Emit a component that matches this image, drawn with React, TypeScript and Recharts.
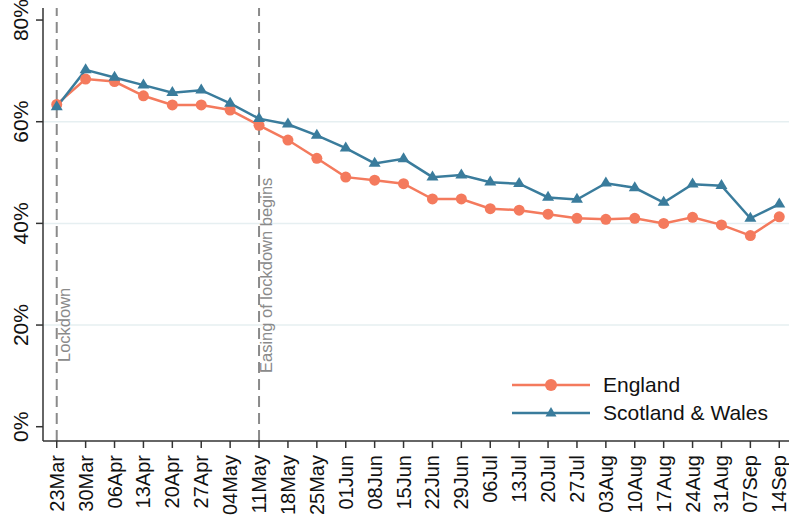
import React from 'react';
import { LineChart, Line, XAxis, YAxis, ReferenceLine, Legend } from 'recharts';

const categories = ['23Mar','30Mar','06Apr','13Apr','20Apr','27Apr','04May','11May','18May','25May','01Jun','08Jun','15Jun','22Jun','29Jun','06Jul','13Jul','20Jul','27Jul','03Aug','10Aug','17Aug','24Aug','31Aug','07Sep','14Sep'];
const england = [63.4, 68.4, 67.9, 65.1, 63.3, 63.3, 62.3, 59.3, 56.4, 52.8, 49.1, 48.5, 47.8, 44.8, 44.8, 42.9, 42.6, 41.8, 41.0, 40.8, 41.0, 40.0, 41.2, 39.7, 37.6, 41.3];
const scotlandWales = [62.9, 70.2, 68.7, 67.2, 65.7, 66.2, 63.6, 60.6, 59.5, 57.3, 54.8, 51.8, 52.7, 49.1, 49.5, 48.1, 47.8, 45.1, 44.7, 47.9, 47.0, 44.1, 47.7, 47.4, 41.0, 43.8];
const yTicks = [0, 20, 40, 60, 80];
const gridValues = [20, 40, 60];
const events = [
  { index: 0, label: 'Lockdown', bottom: 362 },
  { index: 7, label: 'Easing of lockdown begins', bottom: 373 },
];

const ENG = '#f47a5d';
const SCW = '#3a7c9c';
const FONT = '"Liberation Sans", Arial, sans-serif';

const data = categories.map((c, i) => ({ idx: i, cat: c, england: england[i], scw: scotlandWales[i] }));
const xTicks = categories.map((_, i) => i);

const CircleDot = (props: any) => {
  const { cx, cy, key } = props;
  if (cx == null || cy == null) return null;
  return <circle key={key} cx={cx} cy={cy} r={5.5} fill={ENG} stroke="none" />;
};

const TriDot = (props: any) => {
  const { cx, cy, key } = props;
  if (cx == null || cy == null) return null;
  const h = 10, w = 12;
  const pts = `${cx},${cy - (2 * h) / 3} ${cx - w / 2},${cy + h / 3} ${cx + w / 2},${cy + h / 3}`;
  return <polygon key={key} points={pts} fill={SCW} stroke="none" />;
};

const YTick = (props: any) => {
  const { y, payload } = props;
  const bx = 28;
  return (
    <text x={bx} y={y} transform={`rotate(-90, ${bx}, ${y})`} textAnchor="middle" fontSize={21} fontFamily={FONT} fill="#111">
      {`${payload.value}%`}
    </text>
  );
};

const XTick = (props: any) => {
  const { x, payload } = props;
  const bx = x + 7;
  const ty = 455;
  return (
    <text x={bx} y={ty} transform={`rotate(-90, ${bx}, ${ty})`} textAnchor="end" fontSize={20} fontFamily={FONT} fill="#111">
      {categories[payload.value]}
    </text>
  );
};

const LegendContent = () => (
  <svg width={284} height={60} style={{ display: 'block' }}>
    <line x1={7} y1={15} x2={85} y2={15} stroke={ENG} strokeWidth={2.5} />
    <circle cx={46} cy={15} r={6} fill={ENG} />
    <text x={98} y={15} dy="0.35em" fontSize={21} fontFamily={FONT} fill="#111">England</text>
    <line x1={7} y1={43} x2={85} y2={43} stroke={SCW} strokeWidth={2.5} />
    <polygon points={`46,${43 - 6} 40.5,${43 + 3.5} 51.5,${43 + 3.5}`} fill={SCW} />
    <text x={98} y={43} dy="0.35em" fontSize={21} fontFamily={FONT} fill="#111">Scotland &amp; Wales</text>
  </svg>
);

export default function App() {
  return (
    <div style={{ position: 'absolute', left: 0, top: 0, width: 789, height: 521, overflow: 'hidden', background: '#fff' }}>
      <LineChart width={800} height={521} data={data} margin={{ top: 8, right: 7, bottom: 0, left: 0 }}>
        {gridValues.map((v) => (
          <ReferenceLine key={`g${v}`} y={v} stroke="#e6eff1" strokeWidth={1.5} />
        ))}
        <XAxis
          dataKey="idx"
          type="number"
          domain={[-0.475, 25.475]}
          ticks={xTicks}
          interval={0}
          height={80}
          tickSize={7}
          tick={<XTick />}
          stroke="#333"
          axisLine={{ stroke: '#333', strokeWidth: 1.5 }}
          tickLine={{ stroke: '#333', strokeWidth: 1.5 }}
          allowDataOverflow
        />
        <YAxis
          type="number"
          domain={[-2.81, 82.37]}
          ticks={yTicks}
          interval={0}
          width={43}
          tickSize={7}
          tick={<YTick />}
          axisLine={{ stroke: '#333', strokeWidth: 1.5 }}
          tickLine={{ stroke: '#333', strokeWidth: 1.5 }}
          allowDataOverflow
        />
        {events.map((ev) => (
          <ReferenceLine
            key={ev.label}
            x={ev.index}
            stroke="#8a8a8a"
            strokeWidth={2}
            strokeDasharray="11 6"
            label={(p: any) => {
              const vb = p.viewBox || {};
              const bx = (vb.x ?? 0) + 13;
              const by = ev.bottom;
              return (
                <text x={bx} y={by} transform={`rotate(-90, ${bx}, ${by})`} textAnchor="start" fontSize={16.5} fontFamily={FONT} fill="#8a8a8a">
                  {ev.label}
                </text>
              );
            }}
          />
        ))}
        <Line dataKey="england" name="England" stroke={ENG} strokeWidth={2.5} dot={CircleDot} activeDot={false} isAnimationActive={false} />
        <Line dataKey="scw" name="Scotland & Wales" stroke={SCW} strokeWidth={2.5} dot={TriDot} activeDot={false} isAnimationActive={false} />
        <Legend
          layout="horizontal"
          verticalAlign="middle"
          align="center"
          content={<LegendContent />}
          wrapperStyle={{ position: 'absolute', left: 505, top: 370, width: 284, height: 60 }}
        />
      </LineChart>
    </div>
  );
}
